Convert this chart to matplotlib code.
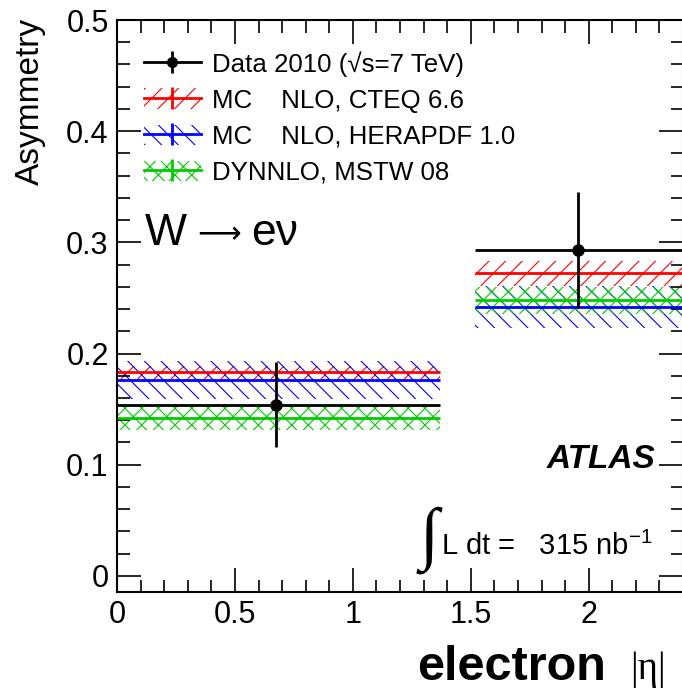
import numpy as np
import matplotlib.pyplot as plt
from matplotlib.patches import Patch
from matplotlib.lines import Line2D

plt.rcParams['font.family'] = ['Liberation Sans', 'DejaVu Sans']
plt.rcParams['mathtext.fontset'] = 'custom'
plt.rcParams['mathtext.rm'] = 'Liberation Sans'
plt.rcParams['mathtext.it'] = 'Liberation Sans:italic'
plt.rcParams['hatch.linewidth'] = 0.8

# |eta| bins
bin_lo = np.array([0.0, 1.52])
bin_hi = np.array([1.37, 2.4])

# data points
data_x = np.array([0.675, 1.955])
data_y = np.array([0.154, 0.293])
data_err = np.array([0.038, 0.052])

# predictions: central value and band half-width per bin
mc_cteq = np.array([0.183, 0.272])
mc_cteq_err = np.array([0.006, 0.011])
mc_hera = np.array([0.176, 0.242])
mc_hera_err = np.array([0.017, 0.019])
dynnlo = np.array([0.142, 0.248])
dynnlo_err = np.array([0.011, 0.012])

W, H = 682, 697
fig = plt.figure(figsize=(W / 100, H / 100), dpi=100)
ax = fig.add_axes([117 / W, 1 - 592 / H, 566 / W, 572 / H])

models = [
    (mc_cteq, mc_cteq_err, 'red', '//'),
    (mc_hera, mc_hera_err, 'blue', '\\\\'),
    (dynnlo, dynnlo_err, '#00cc00', 'xx'),
]

for vals, errs, col, hat in models:
    for i in range(len(bin_lo)):
        ax.fill_between([bin_lo[i], bin_hi[i]], vals[i] - errs[i], vals[i] + errs[i],
                        facecolor='none', edgecolor=col, hatch=hat, linewidth=0)
for vals, errs, col, hat in models:
    ax.hlines(vals, bin_lo, bin_hi, color=col, lw=2)

ax.errorbar(data_x, data_y, xerr=[data_x - bin_lo, bin_hi - data_x], yerr=data_err,
            fmt='o', color='k', ms=8, elinewidth=2, capsize=0, zorder=5)

ax.set_xlim(0, 2.4)
ax.set_ylim(-0.0145, 0.5)
ax.set_xticks([0, 0.5, 1, 1.5, 2])
ax.set_xticklabels(['0', '0.5', '1', '1.5', '2'])
ax.set_xticks(np.arange(0, 2.41, 0.1), minor=True)
ax.set_yticks([0, 0.1, 0.2, 0.3, 0.4, 0.5])
ax.set_yticklabels(['0', '0.1', '0.2', '0.3', '0.4', '0.5'])
ax.set_yticks(np.arange(0, 0.501, 0.02), minor=True)
ax.tick_params(which='both', direction='in', top=True, right=True, width=1.2, labelsize=22)
ax.tick_params(which='major', length=17, pad=6)
ax.tick_params(which='minor', length=9)
for s in ax.spines.values():
    s.set_linewidth(1.5)

# legend
handles = [
    (Line2D([], [], color='k', lw=2, marker='o', ms=7),
     Line2D([], [], color='k', lw=0, marker='|', ms=16, mew=2)),
    (Patch(facecolor='none', edgecolor='red', hatch='//', lw=0),
     Line2D([], [], color='red', lw=2, marker='|', ms=16, mew=2)),
    (Patch(facecolor='none', edgecolor='blue', hatch='\\\\', lw=0),
     Line2D([], [], color='blue', lw=2, marker='|', ms=16, mew=2)),
    (Patch(facecolor='none', edgecolor='#00cc00', hatch='xx', lw=0),
     Line2D([], [], color='#00cc00', lw=2, marker='|', ms=16, mew=2)),
]
labels = ['Data 2010 (\u221as=7 TeV)', 'MC    NLO, CTEQ 6.6',
          'MC    NLO, HERAPDF 1.0', 'DYNNLO, MSTW 08']
fig.legend(handles, labels, loc='upper left', bbox_to_anchor=(144 / W, 1 - 51 / H),
           frameon=False, fontsize=18.6, handlelength=2.2, handleheight=0.85,
           handletextpad=0.45, labelspacing=0.46, borderpad=0, borderaxespad=0)

# W -> e nu, drawn in three pieces so the arrow keeps a thin stroke
fig.text(145 / W, 1 - 245 / H, 'W', fontsize=32, va='baseline', ha='left')
fig.text(197 / W, 1 - 243 / H, '\u27f6', fontsize=22, va='baseline', ha='left')
fig.text(251 / W, 1 - 245 / H, 'e\u03bd', fontsize=32, va='baseline', ha='left')

fig.text(655 / W, 1 - 460 / H, 'ATLAS', fontsize=24, weight='bold', style='italic',
         va='center', ha='right')
fig.text(429 / W, 1 - 540 / H, '\u222b', fontsize=50, va='center', ha='center',
         family=['Liberation Serif', 'DejaVu Serif'])
fig.text(441 / W, 1 - 546 / H, 'L dt =   315 nb$^{-1}$', fontsize=21, va='center', ha='left')

fig.text(30 / W, 1 - 18 / H, 'Asymmetry', fontsize=24, rotation=90, va='top', ha='center')
fig.text(606 / W, 1 - 668 / H, 'electron', fontsize=35, weight='bold', va='center', ha='right')
fig.text(648 / W, 1 - 670 / H, '|\u03b7|', fontsize=28, va='center', ha='center',
         family=['Liberation Serif'])

fig.savefig('out.png', dpi=100)
